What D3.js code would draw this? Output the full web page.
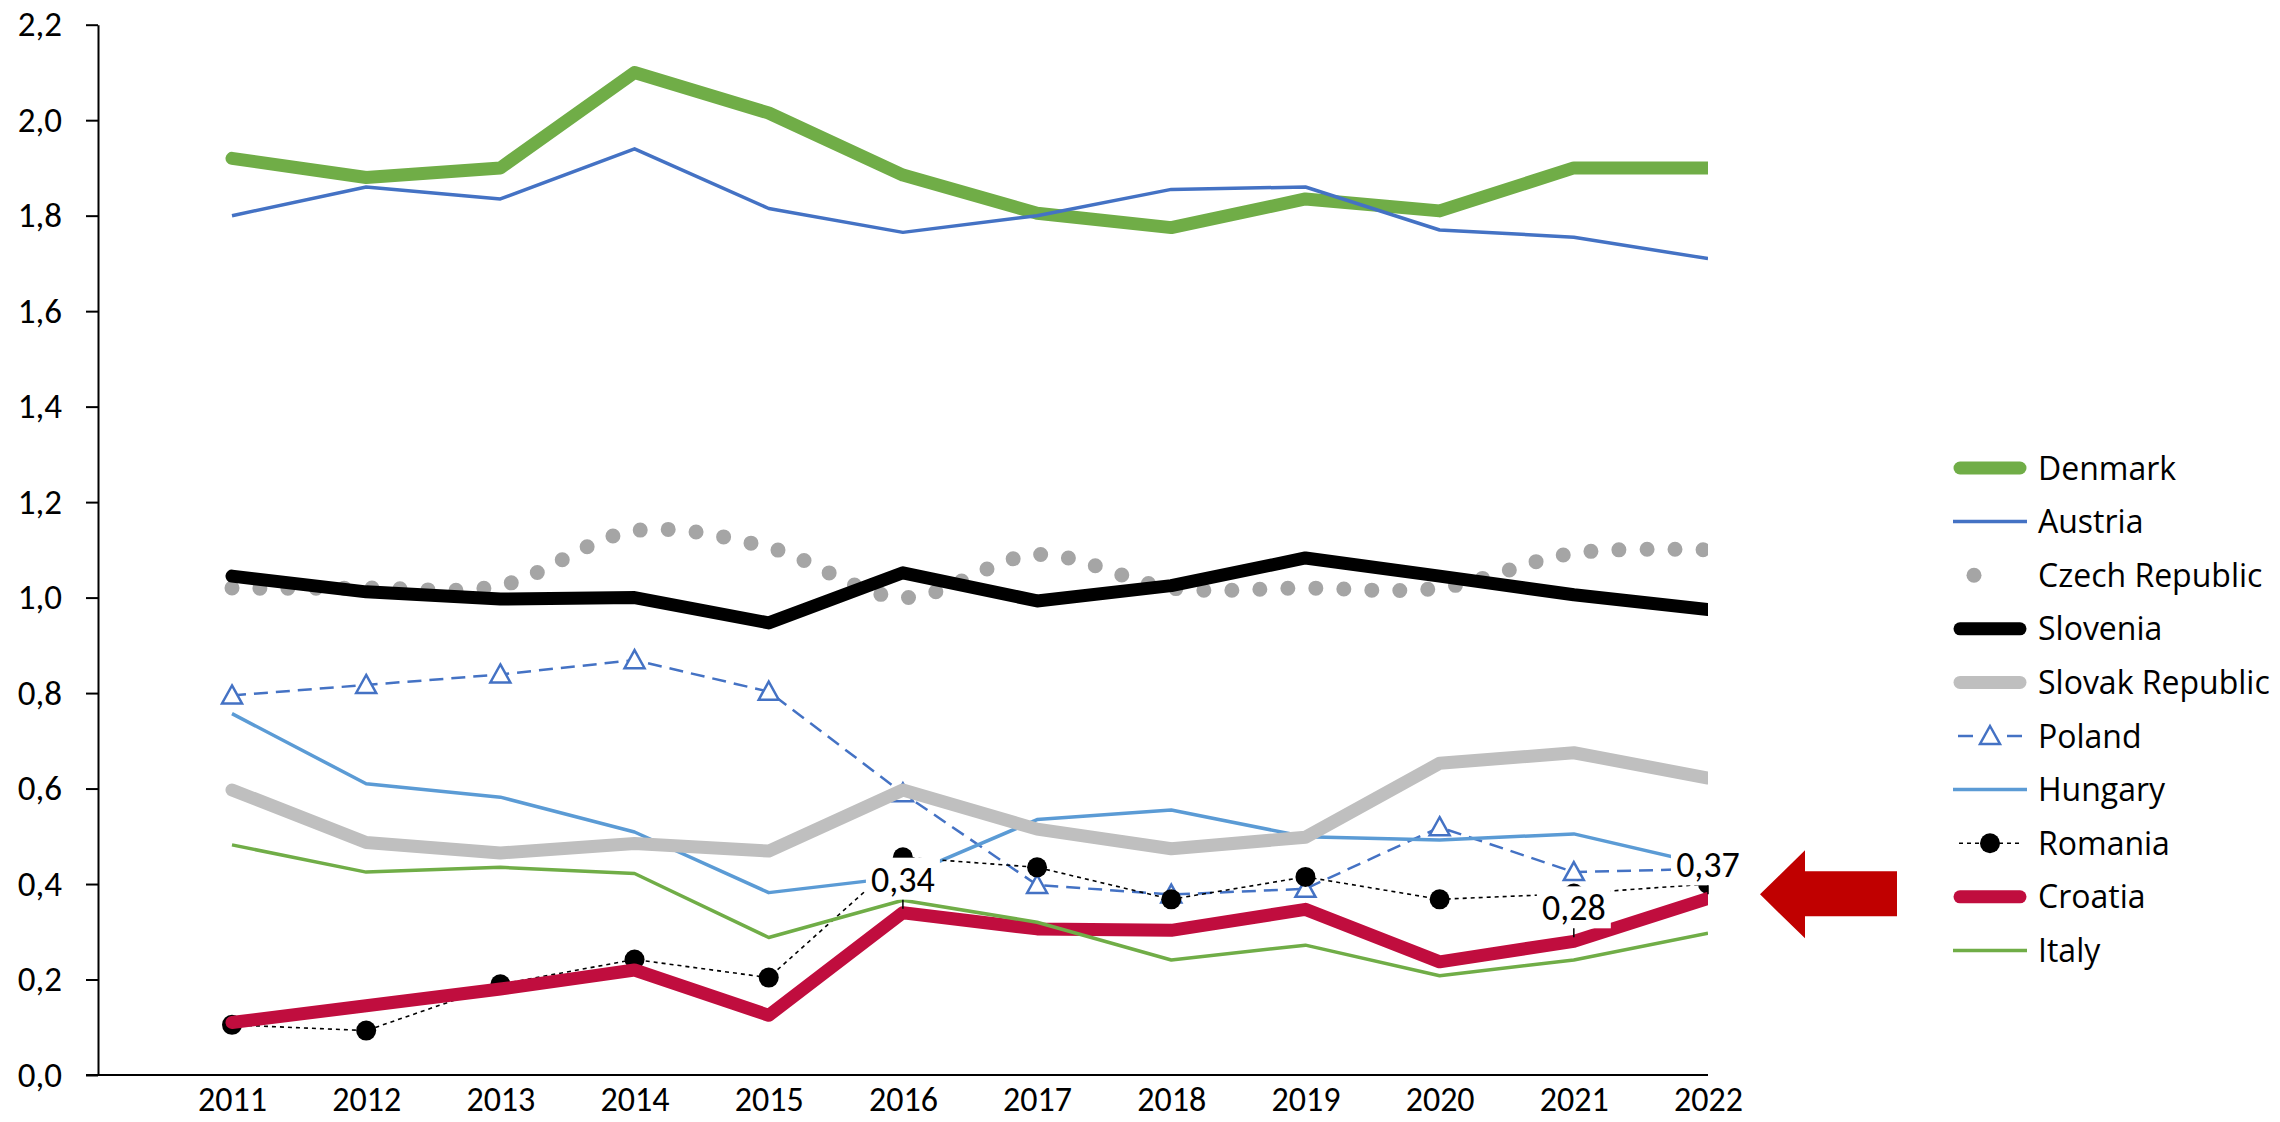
<!DOCTYPE html>
<meta charset="utf-8">
<script src="https://d3js.org/d3.v7.min.js"></script>
<style>
  body { margin: 0; background: #fff; }
  text { font-family: Carlito, Calibri, Lato, sans-serif; fill: #000; }
  .legend text { font-family: "Segoe UI", "Open Sans", sans-serif; }
</style>
<div id="chart"></div>
<script>
// years on the x axis
const years = [2011, 2012, 2013, 2014, 2015, 2016, 2017, 2018, 2019, 2020, 2021, 2022];

// series values
const denmark  = [1.92, 1.88, 1.90, 2.10, 2.015, 1.885, 1.805, 1.775, 1.835, 1.81, 1.90, 1.90];
const austria  = [1.80, 1.86, 1.835, 1.94, 1.815, 1.765, 1.80, 1.855, 1.86, 1.77, 1.755, 1.71];
const czech    = [1.02, 1.02, 1.025, 1.14, 1.105, 1.00, 1.09, 1.02, 1.02, 1.02, 1.093, 1.10];
const slovenia = [1.045, 1.012, 0.997, 1.0, 0.947, 1.052, 0.993, 1.025, 1.083, 1.045, 1.006, 0.975];
const slovak   = [0.597, 0.487, 0.465, 0.485, 0.469, 0.597, 0.515, 0.474, 0.498, 0.653, 0.675, 0.622];
const poland   = [0.795, 0.817, 0.839, 0.869, 0.803, 0.59, 0.398, 0.378, 0.39, 0.519, 0.425, 0.432];
const hungary  = [0.757, 0.61, 0.582, 0.509, 0.382, 0.415, 0.535, 0.555, 0.499, 0.492, 0.505, 0.44];
const romania  = [0.105, 0.093, 0.19, 0.242, 0.204, 0.456, 0.435, 0.368, 0.415, 0.368, 0.38, 0.40];
const croatia  = [0.11, 0.145, 0.18, 0.22, 0.125, 0.34, 0.306, 0.303, 0.347, 0.237, 0.28, 0.37];
const italy    = [0.482, 0.425, 0.435, 0.422, 0.288, 0.366, 0.32, 0.241, 0.272, 0.208, 0.241, 0.297];

const yTicks = [0, 0.2, 0.4, 0.6, 0.8, 1.0, 1.2, 1.4, 1.6, 1.8, 2.0, 2.2];
const labelYears = [2016, 2021, 2022];   // Croatia points that carry a value label

// drawing order = order the lines are stacked
const series = [
  {name: "Denmark",         values: denmark,  color: "#70AD47", width: 13},
  {name: "Austria",         values: austria,  color: "#4472C4", width: 3.5},
  {name: "Czech Republic",  values: czech,    color: "#A5A5A5", width: 15, dots: true},
  {name: "Slovenia",        values: slovenia, color: "#000000", width: 13},
  {name: "Poland",          values: poland,   color: "#4472C4", width: 2.5, dash: "14,8", marker: "triangle"},
  {name: "Hungary",         values: hungary,  color: "#5B9BD5", width: 3.5},
  {name: "Slovak Republic", values: slovak,   color: "#BFBFBF", width: 13},
  {name: "Romania",         values: romania,  color: "#000000", width: 1.6, dash: "4,4", marker: "circle"},
  {name: "Croatia",         values: croatia,  color: "#C00D3E", width: 13},
  {name: "Italy",           values: italy,    color: "#70AD47", width: 3.5}
];
const legendOrder = ["Denmark", "Austria", "Czech Republic", "Slovenia", "Slovak Republic",
                     "Poland", "Hungary", "Romania", "Croatia", "Italy"];

const width = 2280, height = 1122;
const axisX = 98;

const svg = d3.select("#chart").append("svg")
  .attr("width", width)
  .attr("height", height);

const x = d3.scalePoint().domain(years).range([232, 1708]);
const y = d3.scaleLinear().domain([0, 2.2]).range([1075, 24.7]);
const comma1 = v => d3.format(".1f")(v).replace(".", ",");
const comma2 = v => d3.format(".2f")(v).replace(".", ",");

// y axis
const yAxis = svg.append("g")
  .attr("transform", `translate(${axisX},0)`)
  .call(d3.axisLeft(y).tickValues(yTicks).tickSize(12).tickSizeOuter(0)
    .tickPadding(24).tickFormat(comma1));
yAxis.select(".domain").attr("stroke", "#000").attr("stroke-width", 2);
yAxis.selectAll(".tick line").attr("stroke", "#000").attr("stroke-width", 2);
yAxis.selectAll("text").style("font-size", "35px");

// x axis
const xAxis = svg.append("g")
  .attr("transform", `translate(0,${y(0)})`)
  .call(d3.axisBottom(x).tickSize(0).tickPadding(12));
xAxis.select(".domain").remove();
xAxis.append("line")
  .attr("x1", axisX - 12).attr("x2", x(2022))
  .attr("stroke", "#000").attr("stroke-width", 2);
xAxis.selectAll("text").style("font-size", "34px");

// clip lines at the last category, like the original
svg.append("clipPath").attr("id", "plot-clip")
  .append("rect")
    .attr("x", axisX).attr("y", 0)
    .attr("width", x(2022) - axisX).attr("height", y(0));

const plot = svg.append("g").attr("clip-path", "url(#plot-clip)");

const line = d3.line().x(d => x(d.year)).y(d => y(d.v));
const smooth = d3.line().x(d => x(d.year)).y(d => y(d.v)).curve(d3.curveCatmullRom.alpha(0.5));
const triangle = "M0,-10L10,8L-10,8Z";

series.forEach(s => {
  const pts = years.map((yr, i) => ({year: yr, v: s.values[i]}));
  const path = plot.append("path")
    .datum(pts)
    .attr("fill", "none")
    .attr("stroke", s.color)
    .attr("stroke-width", s.width)
    .attr("stroke-linejoin", "round")
    .attr("stroke-linecap", s.width > 10 ? "round" : "butt")
    .attr("d", s.dots ? smooth : line);
  if (s.dots) path.attr("stroke-dasharray", "0,28").attr("stroke-linecap", "round");
  if (s.dash) path.attr("stroke-dasharray", s.dash);

  if (s.marker === "circle") {
    plot.selectAll(null).data(pts).enter().append("circle")
      .attr("cx", d => x(d.year)).attr("cy", d => y(d.v))
      .attr("r", 10).attr("fill", s.color);
  }
  if (s.marker === "triangle") {
    plot.selectAll(null).data(pts).enter().append("path")
      .attr("transform", d => `translate(${x(d.year)},${y(d.v)})`)
      .attr("d", triangle)
      .attr("fill", "#fff").attr("stroke", s.color).attr("stroke-width", 2.5);
  }
});

// value labels on Croatia
const labels = svg.append("g");
labelYears.forEach(yr => {
  const v = croatia[years.indexOf(yr)];
  const cx = x(yr), cy = y(v);
  const tc = cy - 34;
  labels.append("rect")
    .attr("x", cx - 37).attr("y", tc - 21)
    .attr("width", 74).attr("height", 42)
    .attr("fill", "#fff");
  labels.append("line")
    .attr("x1", cx).attr("x2", cx)
    .attr("y1", tc + 21).attr("y2", cy - 4)
    .attr("stroke", "#000").attr("stroke-width", 1.5);
  labels.append("text")
    .attr("x", cx).attr("y", tc).attr("dy", "0.36em")
    .attr("text-anchor", "middle")
    .style("font-size", "36px")
    .text(comma2(v));
});

// red arrow pointing at Croatia's last value
const last = croatia[croatia.length - 1];
const tipX = x(2022) + 52, tipY = y(last) - 4;
svg.append("path")
  .attr("d", `M${tipX},${tipY}` +
    `L${tipX + 45},${tipY - 44}L${tipX + 45},${tipY - 23}L${tipX + 137},${tipY - 23}` +
    `L${tipX + 137},${tipY + 22}L${tipX + 45},${tipY + 22}L${tipX + 45},${tipY + 44}Z`)
  .attr("fill", "#C00000");

// legend
const legend = svg.append("g").attr("class", "legend").attr("transform", "translate(1953,468)");
legendOrder.forEach((name, i) => {
  const s = series.find(d => d.name === name);
  const g = legend.append("g").attr("transform", `translate(0,${i * 53.6})`);
  if (s.dots) {
    g.append("circle").attr("cx", 21).attr("cy", 0).attr("r", 7.5).attr("fill", s.color);
  } else if (s.marker === "triangle") {
    g.append("line").attr("x1", 5).attr("x2", 20).attr("stroke", s.color).attr("stroke-width", 2.5);
    g.append("line").attr("x1", 54).attr("x2", 69).attr("stroke", s.color).attr("stroke-width", 2.5);
    g.append("path").attr("transform", "translate(37,0)").attr("d", triangle)
      .attr("fill", "#fff").attr("stroke", s.color).attr("stroke-width", 2.5);
  } else if (s.marker === "circle") {
    g.append("line").attr("x1", 6).attr("x2", 68)
      .attr("stroke", s.color).attr("stroke-width", 1.6).attr("stroke-dasharray", "4,4");
    g.append("circle").attr("cx", 37).attr("cy", 0).attr("r", 10).attr("fill", s.color);
  } else {
    g.append("line").attr("x1", s.width > 10 ? 7 : 0).attr("x2", s.width > 10 ? 67 : 74)
      .attr("stroke", s.color).attr("stroke-width", s.width)
      .attr("stroke-linecap", s.width > 10 ? "round" : "butt");
  }
  g.append("text")
    .attr("x", 85).attr("y", 0).attr("dy", "0.36em")
    .style("font-size", "32px")
    .text(name);
});
</script>
